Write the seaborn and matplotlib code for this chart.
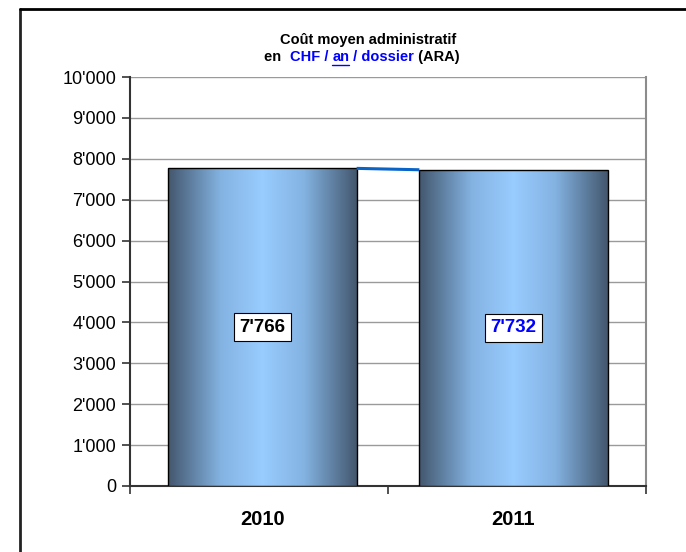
import numpy as np
import pandas as pd
import matplotlib
matplotlib.use("Agg")
import matplotlib.pyplot as plt
from matplotlib.colors import LinearSegmentedColormap
from matplotlib.lines import Line2D
import seaborn as sns

years = ["2010", "2011"]
values = [7766, 7732]
value_labels = ["7'766", "7'732"]
label_colors = ["black", "#0000ff"]
yticks = [0, 1000, 2000, 3000, 4000, 5000, 6000, 7000, 8000, 9000, 10000]
ytick_labels = ["0", "1'000", "2'000", "3'000", "4'000", "5'000", "6'000", "7'000", "8'000", "9'000", "10'000"]

sns.set_theme(style="white")
plt.rcParams['font.family'] = ['Liberation Sans', 'DejaVu Sans']
plt.rcParams['text.color'] = 'black'
plt.rcParams['xtick.color'] = 'black'
plt.rcParams['ytick.color'] = 'black'

df = pd.DataFrame({"year": years, "value": values})

fig = plt.figure(figsize=(6.86, 5.52), dpi=100)
ax = fig.add_axes([130/686, 1-486/552, (646-130)/686, (486-77)/552])

sns.barplot(data=df, x="year", y="value", ax=ax, width=0.75, color="#99ccff",
            edgecolor="black", linewidth=1.0, zorder=3)
XL = (-0.528, 1.528)
ax.set_xlim(*XL)
ax.set_ylim(0, 10000)

# gradient fill clipped to each bar
cmap = LinearSegmentedColormap.from_list("g", [
    (0.0, "#44576e"), (0.1, "#5a7898"), (0.28, "#84b3e2"), (0.5, "#99ccff"),
    (0.72, "#84b3e2"), (0.9, "#5a7898"), (1.0, "#44576e")])
grad = np.linspace(0, 1, 256).reshape(1, -1)
for p in ax.patches:
    x0, y0 = p.get_x(), p.get_y()
    w, h = p.get_width(), p.get_height()
    im = ax.imshow(grad, cmap=cmap, aspect="auto", extent=[x0, x0 + w, y0, y0 + h],
                   zorder=3.5, interpolation="bicubic")
    im.set_clip_path(p)
    p.set_facecolor("none")
    p.set_zorder(4)
ax.set_xlim(*XL)
ax.set_ylim(0, 10000)

# connecting line between bar tops
ps = ax.patches
ax.plot([ps[0].get_x() + ps[0].get_width(), ps[1].get_x()],
        [ps[0].get_height(), ps[1].get_height()], color="#0a64c8", lw=2.2, zorder=5,
        solid_capstyle="butt")

# value labels
for i, p in enumerate(ps):
    ax.text(p.get_x() + p.get_width() / 2, p.get_height() / 2, value_labels[i],
            ha="center", va="center", fontsize=13.5, fontweight="bold", color=label_colors[i],
            zorder=6, bbox=dict(boxstyle="square,pad=0.3", fc="white", ec="black", lw=0.8))

# grid & axes
ax.set_yticks(yticks)
ax.set_yticklabels(ytick_labels, fontsize=13, color="black")
ax.yaxis.grid(True, color="#9a9a9a", lw=1.0, zorder=0)
ax.set_axisbelow(True)
ax.set_xticks([0, 1])
ax.set_xticklabels(years, fontsize=14.5, fontweight="bold", color="black")
ax.tick_params(axis="x", which="major", length=0, pad=17)
ax.set_xticks([XL[0], 0.5, XL[1]], minor=True)
ax.tick_params(axis="x", which="minor", length=6, width=1.2, color="#333333", direction="out", bottom=True)
ax.tick_params(axis="y", length=6, width=1.2, color="#333333", direction="out", left=True, pad=4)
ax.set_xlabel("")
ax.set_ylabel("")
for s in ["left", "bottom"]:
    ax.spines[s].set_color("#333333")
    ax.spines[s].set_linewidth(1.5)
ax.spines["top"].set_visible(False)
ax.spines["right"].set_color("#8c8c8c")
ax.spines["right"].set_linewidth(1.5)

# figure border (left and top)
fig.add_artist(Line2D([20/686, 20/686], [0, 1-9/552], color="#222222", lw=2, transform=fig.transFigure))
fig.add_artist(Line2D([20/686, 1], [1-9/552, 1-9/552], color="black", lw=2, transform=fig.transFigure))

# title
fig.text(368/686, 1-40/552, "Coût moyen administratif", ha="center", va="center",
         fontsize=10.5, fontweight="bold", color="black")

parts = [("en  ", "black", False), ("CHF / ", "#0000ff", False), ("an", "#0000ff", True),
         (" / dossier", "#0000ff", False), (" (ARA)", "black", False)]
fig.canvas.draw()
renderer = fig.canvas.get_renderer()
texts = []
widths = []
for s, c, u in parts:
    t = fig.text(0, 1-57/552, s, ha="left", va="center", fontsize=10.5, fontweight="bold", color=c)
    bb = t.get_window_extent(renderer=renderer)
    texts.append((t, u))
    widths.append(bb.width)
total = sum(widths)
x = 362 - total / 2
for (t, u), w in zip(texts, widths):
    t.set_x(x / 686)
    if u:
        fig.add_artist(Line2D([x / 686, (x + w) / 686], [1-65/552, 1-65/552], color="#0000ff",
                              lw=1.0, transform=fig.transFigure))
    x += w

fig.savefig("out.png", dpi=100)
